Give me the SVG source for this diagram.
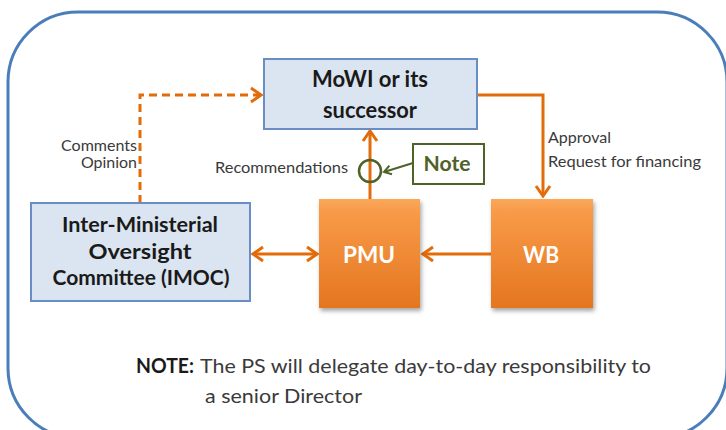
<svg xmlns="http://www.w3.org/2000/svg" width="726" height="430" viewBox="0 0 726 430">
<style>
.frame{fill:#ffffff;stroke:#4a7ebb;stroke-width:3}
.blue{fill:#dbe5f1;stroke:#6a8dc3;stroke-width:2}
.orange{fill:url(#og);filter:url(#sh)}
.conn{fill:none;stroke:#e36c0a;stroke-width:3}
.dash{stroke-dasharray:8 5}
.t{font-family:Lato,"Open Sans","Liberation Sans",sans-serif}
.bold{font-weight:bold}
.dark{fill:#1a1a1a}
.grey{fill:#3a3a3a}
.white{fill:#ffffff}
.green{fill:#4f6228}
</style>
<defs>
<linearGradient id="og" x1="0" y1="0" x2="0" y2="1">
<stop offset="0" stop-color="#fba85a"/>
<stop offset="0.12" stop-color="#f89a48"/>
<stop offset="1" stop-color="#e4761f"/>
</linearGradient>
<filter id="sh" x="-10%" y="-10%" width="130%" height="130%">
<feDropShadow dx="1.5" dy="3" stdDeviation="2" flood-color="#000" flood-opacity="0.35"/>
</filter>
<marker id="ah" viewBox="-12 -9 14 18" markerWidth="14" markerHeight="18" refX="0" refY="0" orient="auto-start-reverse" markerUnits="userSpaceOnUse">
<path d="M-10,-7 L0,0 L-10,7" fill="none" stroke="#e36c0a" stroke-width="3" stroke-linejoin="miter"/>
</marker>
<marker id="gh" viewBox="-9 -6 11 12" markerWidth="11" markerHeight="12" refX="0" refY="0" orient="auto" markerUnits="userSpaceOnUse">
<path d="M-7,-4.5 L0,0 L-7,4.5" fill="none" stroke="#4f6228" stroke-width="2"/>
</marker>
</defs>

<rect class="frame" x="8" y="12" width="719" height="426" rx="70" ry="70"/>

<g id="connectors">
<path class="conn dash" d="M140,203 V95 H261" marker-end="url(#ah)"/>
<path class="conn" d="M477,95 H543 V196" marker-end="url(#ah)"/>
<path class="conn" d="M370,199 V131" marker-end="url(#ah)"/>
<path class="conn" d="M491,254 H423" marker-end="url(#ah)"/>
<path class="conn" d="M253,254 H317" marker-start="url(#ah)" marker-end="url(#ah)"/>
<path d="M413,163 L384,172" fill="none" stroke="#4f6228" stroke-width="2" marker-end="url(#gh)"/>
<text class="t grey" x="137" y="151" font-size="15" text-anchor="end" textLength="76" lengthAdjust="spacingAndGlyphs">Comments</text>
<text class="t grey" x="137" y="168" font-size="15" text-anchor="end" textLength="56" lengthAdjust="spacingAndGlyphs">Opinion</text>
<text class="t grey" x="348" y="173" font-size="15" text-anchor="end" textLength="133" lengthAdjust="spacingAndGlyphs">Recommendations</text>
<text class="t grey" x="548" y="143" font-size="15" textLength="63" lengthAdjust="spacingAndGlyphs">Approval</text>
<text class="t grey" x="548" y="167" font-size="15" textLength="153" lengthAdjust="spacingAndGlyphs">Request for financing</text>
</g>

<g id="mowi">
<rect class="blue" x="264" y="59" width="213" height="70"/>
<text class="t bold dark" x="370" y="87" font-size="22" text-anchor="middle" textLength="116" lengthAdjust="spacingAndGlyphs">MoWI or its</text>
<text class="t bold dark" x="370" y="118" font-size="22" text-anchor="middle" textLength="94" lengthAdjust="spacingAndGlyphs">successor</text>
</g>

<g id="imoc">
<rect class="blue" x="31" y="203" width="219" height="98"/>
<text class="t bold dark" x="140" y="232" font-size="21" text-anchor="middle" textLength="156" lengthAdjust="spacingAndGlyphs">Inter-Ministerial</text>
<text class="t bold dark" x="140" y="259" font-size="21" text-anchor="middle" textLength="103" lengthAdjust="spacingAndGlyphs">Oversight</text>
<text class="t bold dark" x="141" y="285" font-size="21" text-anchor="middle" textLength="177" lengthAdjust="spacingAndGlyphs">Committee (IMOC)</text>
</g>

<g id="pmu">
<rect class="orange" x="319" y="199" width="101" height="109"/>
<text class="t bold white" x="369" y="263" font-size="22" text-anchor="middle" textLength="52" lengthAdjust="spacingAndGlyphs">PMU</text>
</g>

<g id="wb">
<rect class="orange" x="491" y="199" width="102" height="109"/>
<text class="t bold white" x="541" y="263" font-size="22" text-anchor="middle" textLength="36" lengthAdjust="spacingAndGlyphs">WB</text>
</g>

<g id="note-circle">
<circle cx="370" cy="171" r="11" fill="none" stroke="#4f6228" stroke-width="2.5"/>
</g>

<g id="note">
<rect x="413" y="144" width="71" height="40" fill="#ffffff" stroke="#4f6228" stroke-width="2"/>
<text class="t bold green" x="447" y="171" font-size="21" text-anchor="middle" textLength="47" lengthAdjust="spacingAndGlyphs">Note</text>
</g>

<g id="footnote">
<text class="t bold dark" x="136" y="373" font-size="20" textLength="58" lengthAdjust="spacingAndGlyphs">NOTE:</text>
<text class="t grey" x="200" y="373" font-size="20" textLength="451" lengthAdjust="spacingAndGlyphs">The PS will delegate day-to-day responsibility to</text>
<text class="t grey" x="205" y="403" font-size="20" textLength="157" lengthAdjust="spacingAndGlyphs">a senior Director</text>
</g>
</svg>
